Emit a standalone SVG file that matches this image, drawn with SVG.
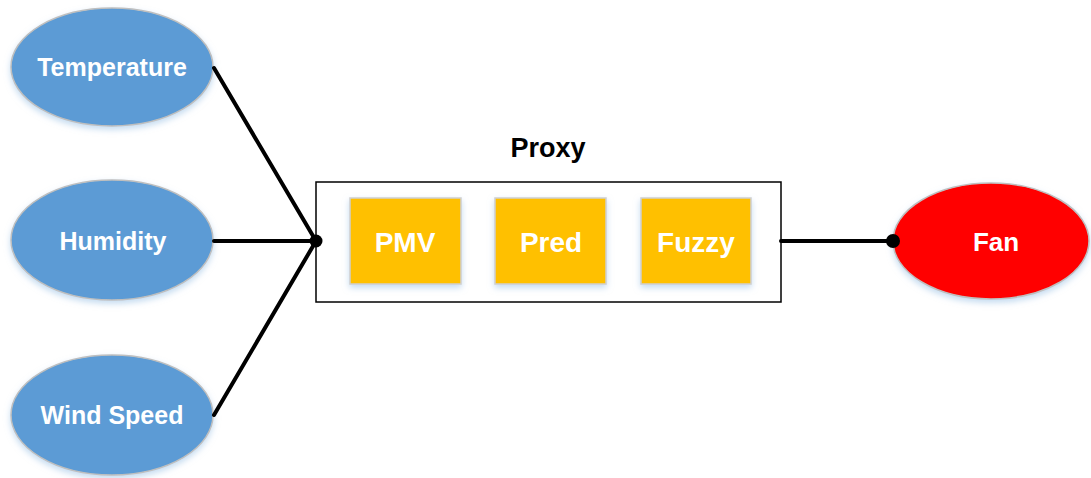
<svg xmlns="http://www.w3.org/2000/svg" width="1091" height="478" viewBox="0 0 1091 478">
  <defs>
    <filter id="soft" x="-20%" y="-20%" width="140%" height="150%">
      <feGaussianBlur in="SourceAlpha" stdDeviation="3"/>
      <feOffset dx="0" dy="3" result="b"/>
      <feFlood flood-color="#9DC3E6" flood-opacity="0.6"/>
      <feComposite in2="b" operator="in"/>
      <feMerge><feMergeNode/><feMergeNode in="SourceGraphic"/></feMerge>
    </filter>
    <style>
      .src { fill: #5B9BD5; stroke: #BFBFBF; stroke-width: 1.5; filter: url(#soft); }
      .out { fill: #FF0000; stroke: #BFBFBF; stroke-width: 1.5; filter: url(#soft); }
      .mod { fill: #FFC000; stroke: #D0D0D0; stroke-width: 1.5; filter: url(#soft); }
      .lbl { font-family: "Liberation Sans", Arial, sans-serif; font-weight: bold; fill: #FFFFFF; text-anchor: middle; }
      .wire { stroke: #000; stroke-width: 4; fill: none; stroke-linecap: round; }
    </style>
  </defs>
  <rect width="1091" height="478" fill="#FFFFFF"/>

  <g id="temperature">
    <ellipse class="src" cx="112" cy="67" rx="101" ry="59"/>
    <text class="lbl" x="112" y="76" font-size="25">Temperature</text>
  </g>
  <g id="humidity">
    <ellipse class="src" cx="112" cy="240" rx="101" ry="60"/>
    <text class="lbl" x="113" y="250" font-size="25">Humidity</text>
  </g>
  <g id="wind-speed">
    <ellipse class="src" cx="112" cy="415" rx="101" ry="60"/>
    <text class="lbl" x="112" y="424" font-size="25">Wind Speed</text>
  </g>

  <g id="proxy">
    <text x="548" y="157" font-family="Liberation Sans, Arial, sans-serif" font-weight="bold" font-size="27" text-anchor="middle" fill="#000">Proxy</text>
    <rect x="316" y="182" width="465" height="120" fill="#FFFFFF" stroke="#000" stroke-width="1.5"/>
  </g>
  <g id="pmv">
    <rect class="mod" x="350" y="198" width="111" height="86"/>
    <text class="lbl" x="405" y="252" font-size="28">PMV</text>
  </g>
  <g id="pred">
    <rect class="mod" x="495" y="198" width="111" height="86"/>
    <text class="lbl" x="551" y="252" font-size="28">Pred</text>
  </g>
  <g id="fuzzy">
    <rect class="mod" x="641" y="198" width="110" height="86"/>
    <text class="lbl" x="696" y="252" font-size="28">Fuzzy</text>
  </g>

  <g id="fan">
    <ellipse class="out" cx="991" cy="241" rx="98" ry="58"/>
    <text class="lbl" x="996" y="251" font-size="26">Fan</text>
  </g>

  <!-- connectors, drawn last so the junction dots sit on top -->
  <g id="connectors">
    <line class="wire" x1="214" y1="68" x2="316" y2="241"/>
    <line class="wire" x1="214" y1="241" x2="316" y2="241"/>
    <line class="wire" x1="214" y1="415" x2="316" y2="241"/>
    <line class="wire" x1="781" y1="241" x2="893" y2="241"/>
    <circle cx="316" cy="241" r="6.5" fill="#000"/>
    <circle cx="893" cy="241" r="7" fill="#000"/>
  </g>
</svg>
